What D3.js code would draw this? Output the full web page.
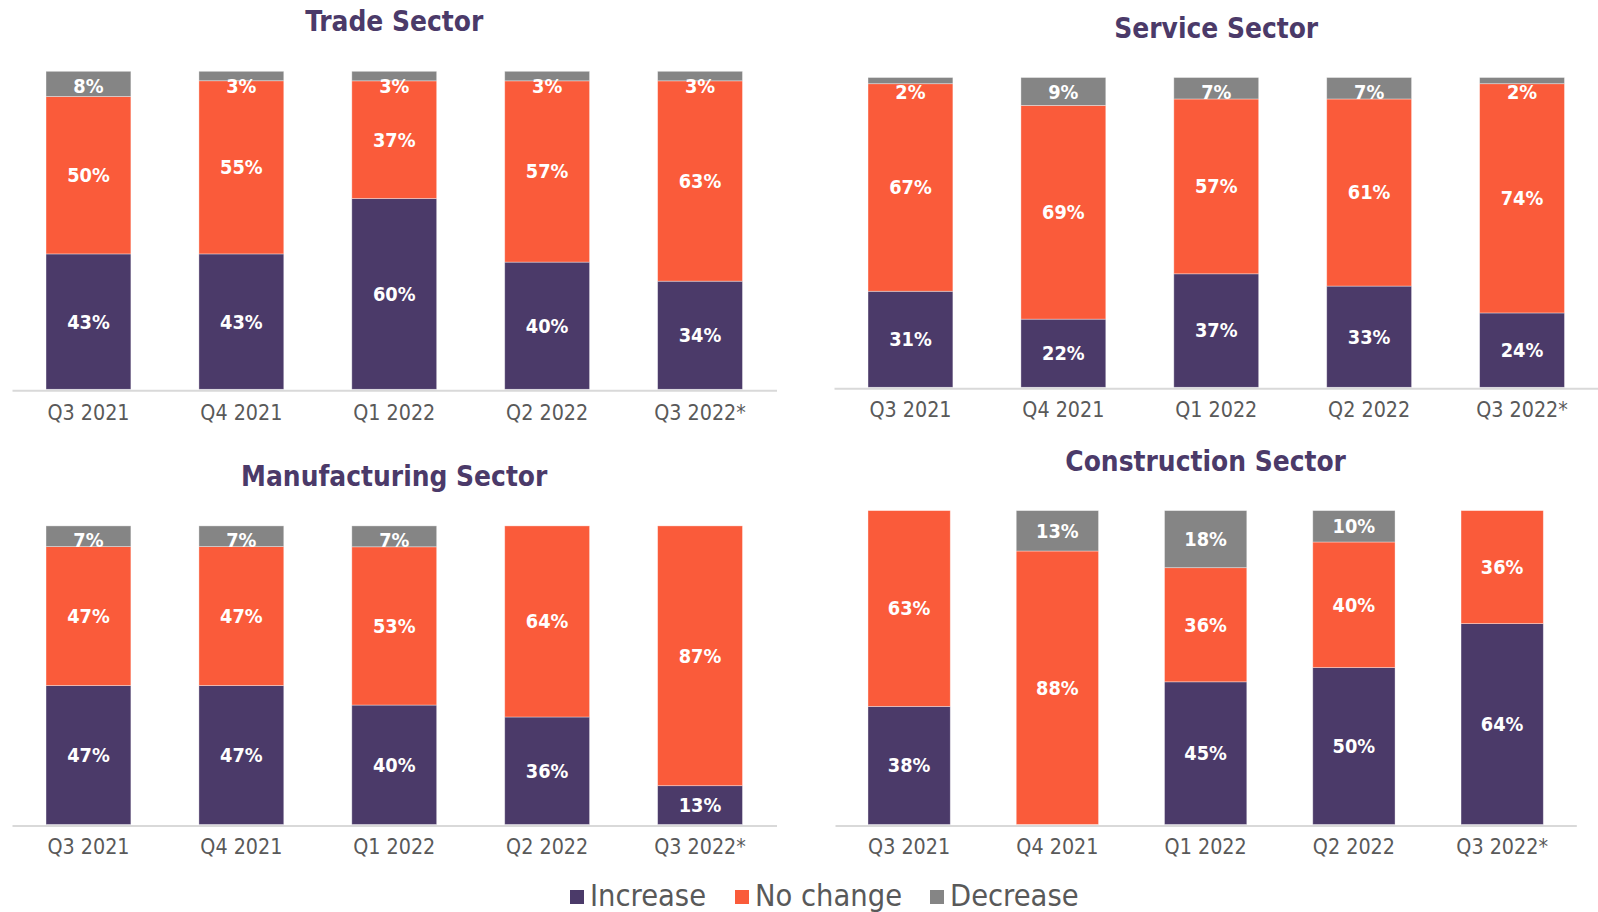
<!DOCTYPE html>
<html>
<head>
<meta charset="utf-8">
<script src="https://cdn.jsdelivr.net/npm/d3@7"></script>
<style>
  html, body { margin: 0; padding: 0; background: #fff; }
  svg { display: block; }
  .cond { font-family: 'DejaVu Sans Condensed', 'DejaVu Sans', sans-serif; font-stretch: condensed; }
</style>
</head>
<body>
<div id="chart"></div>
<script>
// ── Data ──
const quarters = ['Q3 2021', 'Q4 2021', 'Q1 2022', 'Q2 2022', 'Q3 2022*'];
const seriesNames = ['Increase', 'No change', 'Decrease'];

const tradeIncrease = [43, 43, 60, 40, 34];
const tradeNoChange = [50, 55, 37, 57, 63];
const tradeDecrease = [8, 3, 3, 3, 3];

const serviceIncrease = [31, 22, 37, 33, 24];
const serviceNoChange = [67, 69, 57, 61, 74];
const serviceDecrease = [2, 9, 7, 7, 2];

const manufIncrease = [47, 47, 40, 36, 13];
const manufNoChange = [47, 47, 53, 64, 87];
const manufDecrease = [7, 7, 7, 0, 0];

const constrIncrease = [38, 0, 45, 50, 64];
const constrNoChange = [63, 88, 36, 40, 36];
const constrDecrease = [0, 13, 18, 10, 0];

const COLORS = { 'Increase': '#4b3a69', 'No change': '#fa5b3a', 'Decrease': '#858585' };
const TITLE_COLOR = '#4b3a69';
const TEXT_GRAY = '#595959';

// ── Panel layout ──
const panels = [
    { title: 'Trade Sector', inc: tradeIncrease, nc: tradeNoChange, dec: tradeDecrease,
      x0: 12, x1: 776.5, top: 71.3, base: 389.3, titleY: 21.5, labelY: 413 },
    { title: 'Service Sector', inc: serviceIncrease, nc: serviceNoChange, dec: serviceDecrease,
      x0: 834, x1: 1598.5, top: 77.5, base: 387.3, titleY: 28.5, labelY: 410 },
    { title: 'Manufacturing Sector', inc: manufIncrease, nc: manufNoChange, dec: manufDecrease,
      x0: 12, x1: 776.5, top: 525.9, base: 824.5, titleY: 476, labelY: 847 },
    { title: 'Construction Sector', inc: constrIncrease, nc: constrNoChange, dec: constrDecrease,
      x0: 835, x1: 1576.3, top: 510.6, base: 824.5, titleY: 461.5, labelY: 847 },
];

const W = 1598, H = 912;
const svg = d3.select('#chart').append('svg')
    .attr('width', W).attr('height', H)
    .attr('viewBox', [0, 0, W, H]);

panels.forEach(p => {
    const rows = quarters.map((q, i) => ({
        quarter: q,
        'Increase': p.inc[i],
        'No change': p.nc[i],
        'Decrease': p.dec[i],
    }));

    // 100% stacked
    const stacked = d3.stack().keys(seriesNames).offset(d3.stackOffsetExpand)(rows);

    const x = d3.scaleBand().domain(quarters).range([p.x0, p.x1])
        .paddingInner(0.445).paddingOuter(0.2225);
    const y = d3.scaleLinear().domain([0, 1]).range([p.base, p.top]);

    const g = svg.append('g');

    // Title
    g.append('text')
        .attr('class', 'cond')
        .attr('x', (p.x0 + p.x1) / 2)
        .attr('y', p.titleY)
        .attr('dy', '0.35em')
        .attr('text-anchor', 'middle')
        .attr('font-size', '27.8px')
        .attr('font-weight', 'bold')
        .attr('fill', TITLE_COLOR)
        .text(p.title);

    // Segments
    stacked.forEach(layer => {
        const key = layer.key;
        g.append('g').selectAll('rect')
            .data(layer.filter(d => d.data[key] > 0))
            .join('rect')
            .attr('x', d => x(d.data.quarter))
            .attr('width', x.bandwidth())
            .attr('y', d => y(d[1]))
            .attr('height', d => y(d[0]) - y(d[1]))
            .attr('fill', COLORS[key])
            .attr('stroke', 'rgba(255,255,255,0.45)')
            .attr('stroke-width', 0.8);
    });

    // Value labels
    stacked.forEach(layer => {
        const key = layer.key;
        g.append('g').selectAll('text')
            .data(layer.filter(d => d.data[key] > 0))
            .join('text')
            .attr('class', 'cond')
            .attr('x', d => x(d.data.quarter) + x.bandwidth() / 2)
            .attr('y', d => Math.max((y(d[0]) + y(d[1])) / 2, p.top + 14.5))
            .attr('dy', '0.35em')
            .attr('text-anchor', 'middle')
            .attr('font-size', '19.8px')
            .attr('font-weight', 'bold')
            .attr('fill', '#fff')
            .text(d => d.data[key] + '%');
    });

    // Category axis
    const axis = g.append('g')
        .attr('transform', `translate(0,${p.base})`)
        .call(d3.axisBottom(x).tickSize(0).tickSizeOuter(0));
    axis.select('.domain')
        .attr('stroke', '#d9d9d9')
        .attr('stroke-width', 2)
        .attr('transform', 'translate(0,1)');
    axis.selectAll('.tick text')
        .attr('class', 'cond')
        .attr('y', p.labelY - p.base)
        .attr('dy', '0.35em')
        .attr('font-size', '21.3px')
        .attr('fill', TEXT_GRAY);
});

// Legend
const legendItems = [
    { name: 'Increase', x: 570 },
    { name: 'No change', x: 735 },
    { name: 'Decrease', x: 930 },
];
const legend = svg.append('g');
legendItems.forEach(it => {
    legend.append('rect')
        .attr('x', it.x).attr('y', 890)
        .attr('width', 14).attr('height', 14)
        .attr('fill', COLORS[it.name]);
    legend.append('text')
        .attr('class', 'cond')
        .attr('x', it.x + 20)
        .attr('y', 895)
        .attr('dy', '0.35em')
        .attr('font-size', '30.5px')
        .attr('fill', TEXT_GRAY)
        .text(it.name);
});
</script>
</body>
</html>
